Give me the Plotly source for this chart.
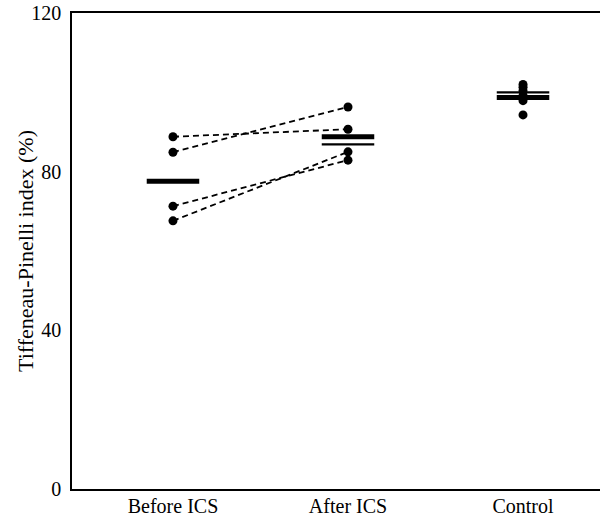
import plotly.graph_objects as go

categories = ["Before ICS", "After ICS", "Control"]
before_ics = [88.8, 84.9, 71.3, 67.6]
after_ics = [90.7, 96.3, 82.9, 85.0]
control = [102.0, 101.3, 100.4, 99.2, 97.9, 94.3]
mean_thick = [77.6, 88.8, 98.7]
mean_thin = [None, 86.9, 100.0]
y_ticks = [0, 40, 80, 120]
y_title = "Tiffeneau-Pinelli index (%)"

xpos = {c: i + 1 for i, c in enumerate(categories)}
half = 0.15
font_family = "Liberation Serif, Times New Roman, serif"

fig = go.Figure()

# paired dashed lines
for b, a in zip(before_ics, after_ics):
    fig.add_trace(go.Scatter(
        x=[xpos["Before ICS"], xpos["After ICS"]], y=[b, a],
        mode="lines", line=dict(color="black", width=1.8, dash="6px,4px"),
        showlegend=False, hoverinfo="skip"))

# mean bars
for c, m in zip(categories, mean_thick):
    fig.add_trace(go.Scatter(
        x=[xpos[c] - half, xpos[c] + half], y=[m, m], mode="lines",
        line=dict(color="black", width=5), showlegend=False, hoverinfo="skip"))
for c, m in zip(categories, mean_thin):
    if m is None:
        continue
    fig.add_trace(go.Scatter(
        x=[xpos[c] - half, xpos[c] + half], y=[m, m], mode="lines",
        line=dict(color="black", width=2.2), showlegend=False, hoverinfo="skip"))

# points
for c, vals in [("Before ICS", before_ics), ("After ICS", after_ics), ("Control", control)]:
    fig.add_trace(go.Scatter(
        x=[xpos[c]] * len(vals), y=vals, mode="markers",
        marker=dict(color="black", size=9), showlegend=False))

# the frame continues past the right edge of the window (cropped box)
fig.update_layout(
    width=624, height=522,
    margin=dict(l=72, r=0, t=13, b=33),
    paper_bgcolor="white", plot_bgcolor="white",
    font=dict(family=font_family, size=20, color="black"),
)
fig.update_xaxes(
    range=[0.423, 3.577], tickvals=[xpos[c] for c in categories], ticktext=categories,
    showline=True, linecolor="black", linewidth=1.5, mirror=True, automargin=False,
    showgrid=False, zeroline=False, ticks="", tickfont=dict(size=20), ticklabelstandoff=-2)
fig.update_yaxes(
    range=[0, 120], tickvals=y_ticks, showline=True, linecolor="black", linewidth=1.5,
    showgrid=False, zeroline=False, ticks="", tickfont=dict(size=20), automargin=False,
    ticklabelstandoff=5, ticklabeloverflow="allow")

fig.add_annotation(
    text=y_title, xref="paper", yref="paper", x=0, y=0.5, xshift=-47,
    textangle=-90, xanchor="center", yanchor="middle", showarrow=False,
    font=dict(size=22, family=font_family, color="black"))

fig.write_html(
    "out.html",
    config={"displayModeBar": False},
    post_script="document.body.style.margin='0';document.body.style.overflow='hidden';",
)
